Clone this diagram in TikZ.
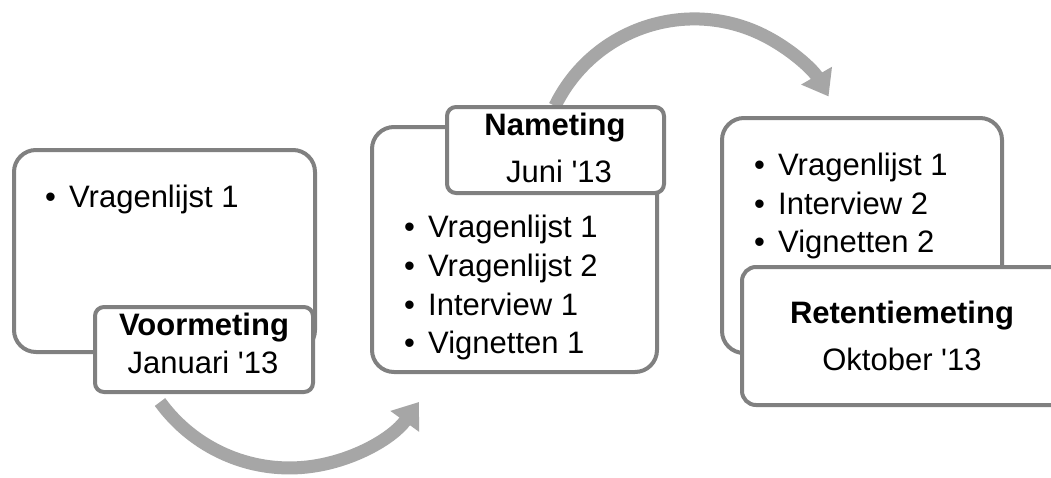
\documentclass[tikz,border=0pt]{standalone}
\usepackage{fontspec}
\setmainfont{Liberation Sans}
\usetikzlibrary{arrows.meta}
\definecolor{boxline}{RGB}{128,128,128}
\definecolor{arrowgray}{RGB}{166,166,166}
\begin{document}
\begin{tikzpicture}[x=1pt,y=-1pt,
  bigbox/.style={draw=boxline,line width=4pt,rounded corners=22pt,fill=white,inner sep=0pt,outer sep=0pt},
  labbox/.style={draw=boxline,line width=4pt,rounded corners=9pt,fill=white,inner sep=0pt,outer sep=0pt},
  item/.style={anchor=base west,inner sep=0pt,font=\fontsize{31}{37}\selectfont},
  ttl/.style={anchor=base,inner sep=0pt,font=\fontsize{31}{37}\selectfont\bfseries},
  sub/.style={anchor=base,inner sep=0pt,font=\fontsize{31}{37}\selectfont},
  flow/.style={draw=arrowgray,line width=13pt,-{Triangle[width=34pt,length=24pt]}}
]
\clip (0,0) rectangle (1051,477);
\fill[white] (0,0) rectangle (1051,477);

\newcommand{\bul}[1]{\makebox[24pt][l]{•}#1}

% arrows
\coordinate (a1) at (160,402);
\draw[flow] (a1) arc[start angle=216, end angle=324, radius=160pt];
\coordinate (a2) at (555,106);
\draw[flow] (a2) arc[start angle=154, end angle=30, radius=155pt];

% box 1
\node[bigbox,minimum width=301pt,minimum height=202pt] (big1) at (164.5,251) {};
\node[labbox,minimum width=218pt,minimum height=85pt] (lab1) at (204,349.5) {};
\node[item] (i11) at (45,207) {\bul{Vragenlijst 1}};
\node[ttl] (t1) at (204,335) {Voormeting};
\node[sub] (s1) at (203,373) {Januari \textquotesingle13};

% box 2
\node[bigbox,minimum width=285pt,minimum height=245pt] (big2) at (514.5,249.5) {};
\node[labbox,minimum width=217pt,minimum height=86pt] (lab2) at (555.5,150) {};
\node[ttl] (t2) at (555,135) {Nameting};
\node[sub] (s2) at (559,182) {Juni \textquotesingle13};
\node[item] (i21) at (404,237) {\bul{Vragenlijst 1}};
\node[item] (i22) at (404,276) {\bul{Vragenlijst 2}};
\node[item] (i23) at (404,315) {\bul{Interview 1}};
\node[item] (i24) at (404,353) {\bul{Vignetten 1}};

% box 3
\node[bigbox,minimum width=280pt,minimum height=235pt] (big3) at (862,235.5) {};
\node[item] (i31) at (754,175) {\bul{Vragenlijst 1}};
\node[item] (i32) at (754,214) {\bul{Interview 2}};
\node[item] (i33) at (754,252) {\bul{Vignetten 2}};
\node[labbox,rounded corners=14pt,minimum width=328pt,minimum height=138pt] (lab3) at (906,336) {};
\node[ttl] (t3) at (902,323) {Retentiemeting};
\node[sub] (s3) at (902,370) {Oktober \textquotesingle13};
\end{tikzpicture}
\end{document}
